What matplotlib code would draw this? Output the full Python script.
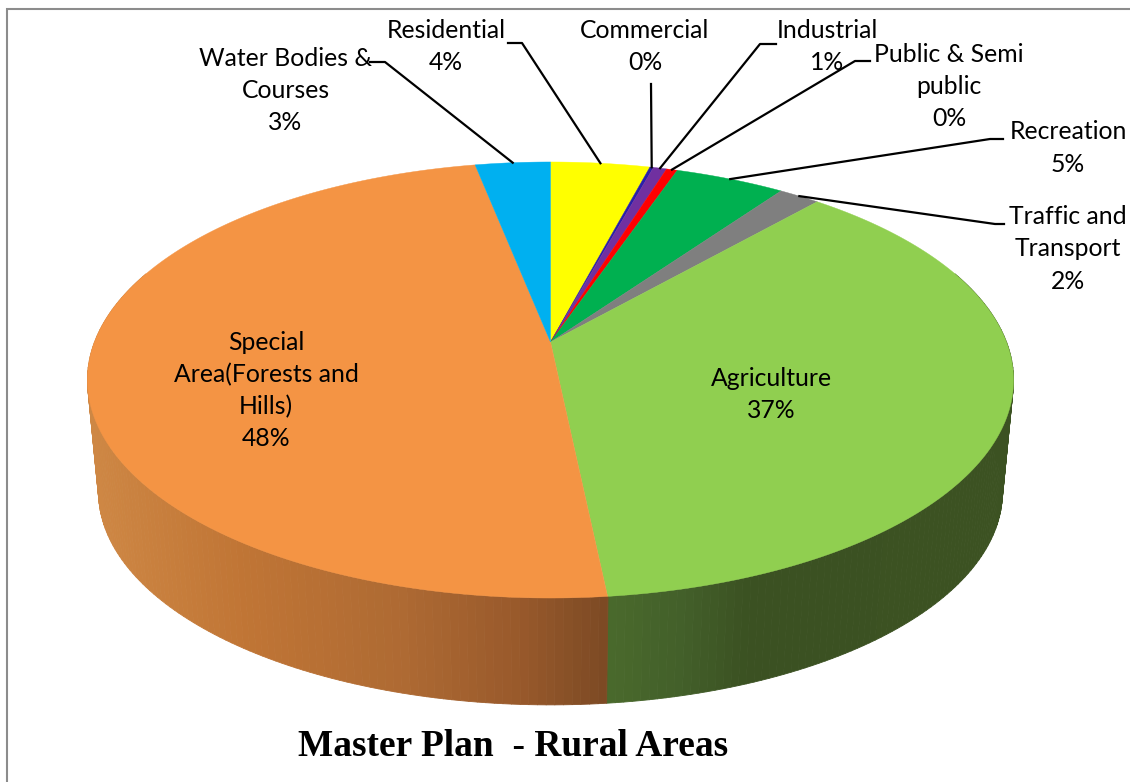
import numpy as np
import matplotlib
matplotlib.use('Agg')
import matplotlib.pyplot as plt
from matplotlib.collections import PolyCollection
from matplotlib.colors import to_rgb

# slices, clockwise from 12 o'clock
categories = ['Residential', 'Commercial', 'Industrial', 'Public & Semi\npublic', 'Recreation',
              'Traffic and\nTransport', 'Agriculture', 'Special\nArea(Forests and\nHills)',
              'Water Bodies &\nCourses']
values = [4.1, 0.15, 0.55, 0.45, 4.55, 1.7, 36.85, 48.55, 3.1]
percent_labels = ['4%', '0%', '1%', '0%', '5%', '2%', '37%', '48%', '3%']
colors = ['#FFFF00', '#2A1FA8', '#7030A0', '#FF0000', '#00B050', '#7F7F7F', '#90CF50', '#F49444', '#00B0F0']
title = 'Master Plan  - Rural Areas'

# label centre, elbow of the leader line (None = no leader)
label_pos = [(446, 46), (645, 46), (827, 46), (949, 86), (1068, 147.5), (1068, 248.5), (771, 394), (266, 390), (285.5, 90)]
elbows = [[(508, 43), (522, 43)], [(651, 84)], [(776, 44), (760, 44)], [(870, 61), (855, 61)],
          [(1003, 139), (990, 139)], [(1004, 224), (995, 224)], None, None, [(370, 62), (385, 62)]]

# side shading, by pixel x
orange_x = [90, 240, 400, 520, 606]
orange_rgb = ['#CE8744', '#C07535', '#AE6A33', '#98592B', '#7C4A24']
green_x = [606, 680, 750, 1015]
green_rgb = ['#4A6A2C', '#43602A', '#3B5122', '#3C5222']

CX = 550.5
persp = 0.1743
LINE_PITCH = 32.3


def project(theta, level=0.0):
    # perspective circle: level 0 is the top face, level 1 the bottom one
    scale = 1 - 0.024 * level
    apex = 342 + 113 * level
    u, v = np.sin(theta), np.cos(theta)
    den = 1 + persp * v
    x = CX + scale * 456 * u / den
    y = apex + scale * (-211.4 * v) / den
    return x, y


def mix(x, stops, cols):
    rgb = np.array([to_rgb(c) for c in cols])
    return tuple(np.interp(x, stops, rgb[:, i]) for i in range(3))


plt.rcParams['font.family'] = ['Lato', 'DejaVu Sans']

fig = plt.figure(figsize=(11.3, 7.82), dpi=100)
ax = fig.add_axes([0, 0, 1, 1])
ax.set_xlim(0, 1130)
ax.set_ylim(782, 0)
ax.axis('off')

# frame, only top and left are inside the crop
ax.plot([7, 7, 1130], [782, 8.5, 8.5], color='#8C8C8C', lw=1.5, solid_joinstyle='miter')

edges = np.radians(np.concatenate([[0], np.cumsum(values)]) / np.sum(values) * 360)
seam = edges[7]

# side wall in thin strips
strips = np.linspace(np.radians(70), np.radians(290), 240)
polys, cols = [], []
for t0, t1 in zip(strips[:-1], strips[1:]):
    tm = (t0 + t1) / 2
    x0, y0 = project(t0)
    x1, y1 = project(t1)
    x2, y2 = project(t1, 1)
    x3, y3 = project(t0, 1)
    polys.append([(x0, y0), (x1, y1), (x2, y2), (x3, y3)])
    xm = project(tm)[0]
    if tm < seam:
        cols.append(mix(xm, green_x, green_rgb))
    else:
        cols.append(mix(xm, orange_x, orange_rgb))
ax.add_collection(PolyCollection(polys, facecolors=cols, edgecolors='face', linewidths=0.6))

# top face
for i, c in enumerate(colors):
    th = np.linspace(edges[i], edges[i + 1], max(int(values[i] * 6), 4))
    x, y = project(th)
    ax.fill(np.r_[CX, x], np.r_[342, y], color=c, lw=0.3, zorder=3)

# leaders end on the middle of each slice's rim
mids = (edges[:-1] + edges[1:]) / 2
for el, m in zip(elbows, mids):
    if el is None:
        continue
    xe, ye = project(m)
    xs = [p[0] for p in el] + [float(xe)]
    ys = [p[1] for p in el] + [float(ye)]
    ax.plot(xs, ys, color='black', lw=1.6, zorder=4, solid_joinstyle='round')

# one text per line so the pitch is exact
for name, pct, (lx, ly) in zip(categories, percent_labels, label_pos):
    lines = name.split('\n') + [pct]
    for k, line in enumerate(lines):
        yl = ly + (k - (len(lines) - 1) / 2) * LINE_PITCH + 8
        ax.text(lx, yl, line, ha='center', va='baseline', fontsize=17.8, color='black', zorder=5)

ax.text(513.5, 747, title, ha='center', va='center', fontsize=26.9, fontweight='bold',
        family=['Liberation Serif'], color='black', zorder=5)

fig.savefig('out.png', dpi=100)
